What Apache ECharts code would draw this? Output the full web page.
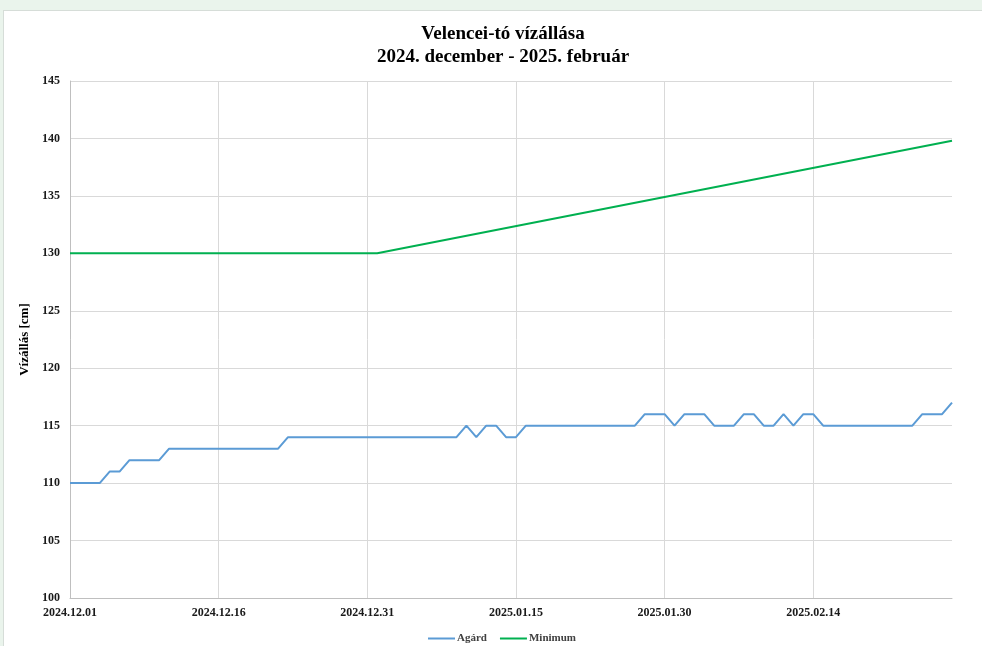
<!DOCTYPE html>
<html>
<head>
<meta charset="utf-8">
<script src="https://cdn.jsdelivr.net/npm/echarts@6/dist/echarts.min.js"></script>
<style>
  body { margin: 0; background: #eaf4ec; }
  #panel { position: absolute; left: 3px; top: 10px; width: 990px; height: 650px; background: #fff; border: 1px solid #d6ddd8; }
  #chart { position: absolute; left: 0; top: 0; width: 982px; height: 646px; }
</style>
</head>
<body>
<div id="panel"></div>
<div id="chart"></div>
<script>
  // napok 2024.12.01-tol 2025.02.28-ig
  var startDay = new Date(2024, 11, 1)
  var dayCount = 90
  var days = []
  for (var i = 0; i < dayCount; i++) {
    var d = new Date(startDay.getFullYear(), startDay.getMonth(), startDay.getDate() + i)
    var mm = ('0' + (d.getMonth() + 1)).slice(-2)
    var dd = ('0' + d.getDate()).slice(-2)
    days.push(d.getFullYear() + '.' + mm + '.' + dd)
  }

  var agard = [
    110, 110, 110, 110, 111, 111, 112, 112, 112, 112,
    113, 113, 113, 113, 113, 113, 113, 113, 113, 113,
    113, 113, 114, 114, 114, 114, 114, 114, 114, 114,
    114, 114, 114, 114, 114, 114, 114, 114, 114, 114,
    115, 114, 115, 115, 114, 114, 115, 115, 115, 115,
    115, 115, 115, 115, 115, 115, 115, 115, 116, 116,
    116, 115, 116, 116, 116, 115, 115, 115, 116, 116,
    115, 115, 116, 115, 116, 116, 115, 115, 115, 115,
    115, 115, 115, 115, 115, 115, 116, 116, 116, 117
  ]

  // minimum vizallas: toresponttok
  var minimum = [
    ['2024.12.01', 130],
    ['2025.01.01', 130],
    ['2025.02.28', 139.8]
  ]

  var yTicks = { min: 100, max: 145, step: 5 }

  var font = '"Liberation Serif", "Times New Roman", serif'
  var chart = echarts.init(document.getElementById('chart'))
  chart.setOption({
    animation: false,
    textStyle: { fontFamily: font },
    title: {
      text: 'Velencei-tó vízállása\n2024. december - 2025. február',
      left: 498,
      top: 18,
      textAlign: 'center',
      textStyle: { fontFamily: font, fontSize: 19, fontWeight: 'bold', color: '#000', lineHeight: 23 }
    },
    legend: {
      top: 628,
      left: 423,
      itemWidth: 27,
      itemHeight: 2,
      itemGap: 13,
      icon: 'rect',
      textStyle: { fontFamily: font, fontSize: 11, fontWeight: 'bold', color: '#404040', padding: [0, 0, 0, -3] },
      data: ['Agárd', 'Minimum']
    },
    grid: { left: 70, right: 30, top: 81, bottom: 48 },
    xAxis: {
      type: 'category',
      boundaryGap: false,
      data: days,
      axisLine: { lineStyle: { color: '#bfbfbf' } },
      axisTick: { show: false },
      axisLabel: { interval: 14, color: '#1a1a1a', fontWeight: 'bold', fontSize: 12, margin: 9 },
      splitLine: { show: true, interval: 14, lineStyle: { color: '#d9d9d9' } }
    },
    yAxis: {
      type: 'value',
      min: yTicks.min,
      max: yTicks.max,
      interval: yTicks.step,
      name: 'Vízállás [cm]',
      nameLocation: 'middle',
      nameGap: 34,
      nameTextStyle: { fontFamily: font, fontSize: 13, fontWeight: 'bold', color: '#000' },
      axisLine: { show: true, lineStyle: { color: '#bfbfbf' } },
      axisLabel: { color: '#1a1a1a', fontWeight: 'bold', fontSize: 12, margin: 10 },
      splitLine: { lineStyle: { color: '#d9d9d9' } }
    },
    series: [
      {
        name: 'Agárd', type: 'line', data: agard, showSymbol: false,
        lineStyle: { width: 2, color: '#5b9bd5' }, itemStyle: { color: '#5b9bd5' }
      },
      {
        name: 'Minimum', type: 'line', data: minimum, showSymbol: false,
        lineStyle: { width: 2, color: '#00b050' }, itemStyle: { color: '#00b050' }
      }
    ]
  })
</script>
</body>
</html>
